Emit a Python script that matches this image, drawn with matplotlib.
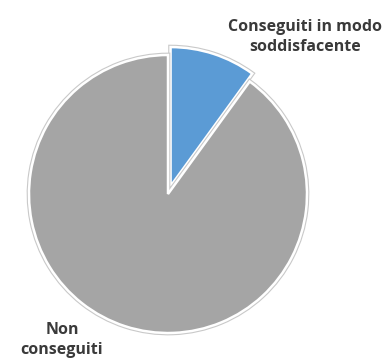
import matplotlib.pyplot as plt
import matplotlib.patheffects as pe

categorie = ["Conseguiti in modo\nsoddisfacente", "Non\nconseguiti"]
valori = [10, 90]
colori = ["#5B9BD5", "#A5A5A5"]
esplosione = [0.06, 0]

fig = plt.figure(figsize=(3.92, 3.6), dpi=100)
# pie centre at ~(168, 194) px from top-left, radius ~139 px
W, H = 392, 360
r = 139
lim = 1.25
ax = fig.add_axes([(168 - r * lim) / W, (H - 194 - r * lim) / H,
                   2 * r * lim / W, 2 * r * lim / H])
ax.set_xlim(-lim, lim)
ax.set_ylim(-lim, lim)
ax.set_aspect("equal")
ax.axis("off")

wedges, _ = ax.pie(
    valori,
    colors=colori,
    startangle=90,
    counterclock=False,
    explode=esplosione,
    radius=1,
    wedgeprops=dict(edgecolor="white", linewidth=1.8),
)
for w in wedges:
    w.set_path_effects([pe.Stroke(linewidth=3.4, foreground="#c9c9c9"), pe.Normal()])

# etichette
posizioni = [(305, 37), (62, 340)]
for testo, (px, py) in zip(categorie, posizioni):
    fig.text(px / W, 1 - py / H, testo, ha="center", va="center",
             fontsize=11.5, fontweight="bold", color="#3a3a3a",
             family="Open Sans", linespacing=1.35)

fig.savefig("out.png", dpi=100, facecolor="white")
